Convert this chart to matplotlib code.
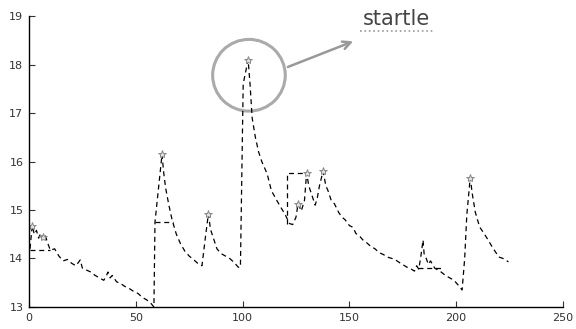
import matplotlib
matplotlib.use("Agg")
import matplotlib.pyplot as plt
from matplotlib.patches import Ellipse

# main trace (sample index, value)
trace_x = [0.5, 1.5, 2.5, 3.5, 4.5, 5.5, 6.5, 7.5, 8.5, 10,
           12, 14, 16, 18, 20, 22, 24, 25, 27, 29, 31, 33, 35, 36, 37, 38, 39,
           41, 43, 45, 47, 49, 51, 53, 55, 57, 58.5,
           59, 62.3, 63, 64, 65.5, 67, 69, 71, 73, 75, 77, 79, 81,
           82.5, 84, 85, 86.5, 88, 90, 92, 94, 96, 98,
           99, 100.3, 102.6, 103.5, 104.5, 106, 107.5, 109, 111.5, 113.5, 116,
           118, 120, 122, 123.5, 125, 126, 127.5, 129, 130, 131, 132.5, 134,
           135, 136, 137.7, 139, 140, 141.5, 143, 145, 146.6, 148, 150, 151.8,
           153, 155, 156.4, 158, 160, 162, 164, 166, 167.7, 170, 172, 174, 177,
           179, 180.5, 181.5, 182.5, 183.5, 184.5, 185, 186, 187, 188, 190, 193,
           195, 197, 199, 201, 202.8, 204, 205, 206.6, 207.5, 209, 211, 213,
           215, 217, 220, 222, 224.5]
trace_y = [14.2, 14.68, 14.5, 14.58, 14.42, 14.52, 14.42, 14.5, 14.35, 14.17,
           14.2, 14.05, 13.95, 13.98, 13.9, 13.85, 13.97, 13.8, 13.76, 13.72,
           13.65, 13.6, 13.55, 13.62, 13.72, 13.6, 13.65,
           13.52, 13.48, 13.42, 13.38, 13.32, 13.28, 13.2, 13.15, 13.08, 13.0,
           14.75, 16.15, 15.8, 15.45, 15.1, 14.8, 14.5, 14.3, 14.15, 14.05,
           13.98, 13.9, 13.85,
           14.4, 14.92, 14.6, 14.4, 14.2, 14.1, 14.05, 14.0, 13.92, 13.82,
           13.82, 17.6, 18.1, 17.6, 16.9, 16.5, 16.2, 16.0, 15.75, 15.4, 15.2,
           15.05, 14.9, 14.72, 14.7, 14.85, 15.13, 14.98, 15.2, 15.77, 15.5,
           15.3, 15.1, 15.25, 15.5, 15.8, 15.5, 15.4, 15.2, 15.13, 14.95,
           14.85, 14.8, 14.68, 14.64, 14.52, 14.45, 14.38, 14.33, 14.25, 14.2,
           14.12, 14.08, 14.03, 14.0, 13.96, 13.9, 13.82, 13.78, 13.74, 13.85,
           13.78, 14.05, 14.38, 14.1, 14.0, 13.88, 13.95, 13.8, 13.72, 13.65,
           13.6, 13.55, 13.45, 13.35, 14.0, 14.9, 15.67, 15.35, 14.95, 14.65,
           14.52, 14.38, 14.23, 14.03, 14.0, 13.93]

# held-level segments (dashed steps)
hold_segments = [
    ([0.5, 10], [14.17, 14.17]),
    ([59, 67.5], [14.75, 14.75]),
    ([121, 121, 130], [14.72, 15.77, 15.77]),
    ([182, 193], [13.8, 13.8]),
]

# detected peaks
peak_x = [1.5, 6.5, 62.3, 84, 102.6, 126, 130, 137.7, 206.6]
peak_y = [14.68, 14.45, 16.15, 14.92, 18.1, 15.13, 15.77, 15.8, 15.67]

fig = plt.figure(figsize=(5.76, 3.29), dpi=100)
ax = fig.add_axes([0.0503, 0.067, 0.927, 0.884])

ax.plot(trace_x, trace_y, "--", color="black", linewidth=0.9, dashes=(4, 3))
for sx, sy in hold_segments:
    ax.plot(sx, sy, "--", color="black", linewidth=0.9, dashes=(4, 3))
ax.plot(peak_x, peak_y, "*", color="#888888", markersize=6,
        markerfacecolor="#e0e0e0", markeredgewidth=0.7)

# startle annotation
ax.add_patch(Ellipse((103, 17.78), 34, 1.48, fill=False, edgecolor="#aaaaaa",
                     linewidth=2.2))
ax.annotate("", xy=(153, 18.5), xytext=(120, 17.93),
            arrowprops=dict(arrowstyle="->", color="#999999", lw=1.8,
                            mutation_scale=14))
ax.text(172, 18.95, "startle", fontsize=15, color="#444444",
        ha="center", va="center", clip_on=False)
ax.plot([155, 190], [18.7, 18.7], ":", color="#999999", linewidth=1.2,
        clip_on=False)

ax.set_xlim(0, 250)
ax.set_ylim(13, 19)
ax.set_xticks([0, 50, 100, 150, 200, 250])
ax.set_yticks([13, 14, 15, 16, 17, 18, 19])
ax.tick_params(direction="in", length=4, labelsize=8, colors="#333333",
               pad=4)
ax.spines["top"].set_visible(False)
ax.spines["right"].set_visible(False)
for s in ("left", "bottom"):
    ax.spines[s].set_linewidth(1.0)

fig.savefig("out.png", dpi=100)
